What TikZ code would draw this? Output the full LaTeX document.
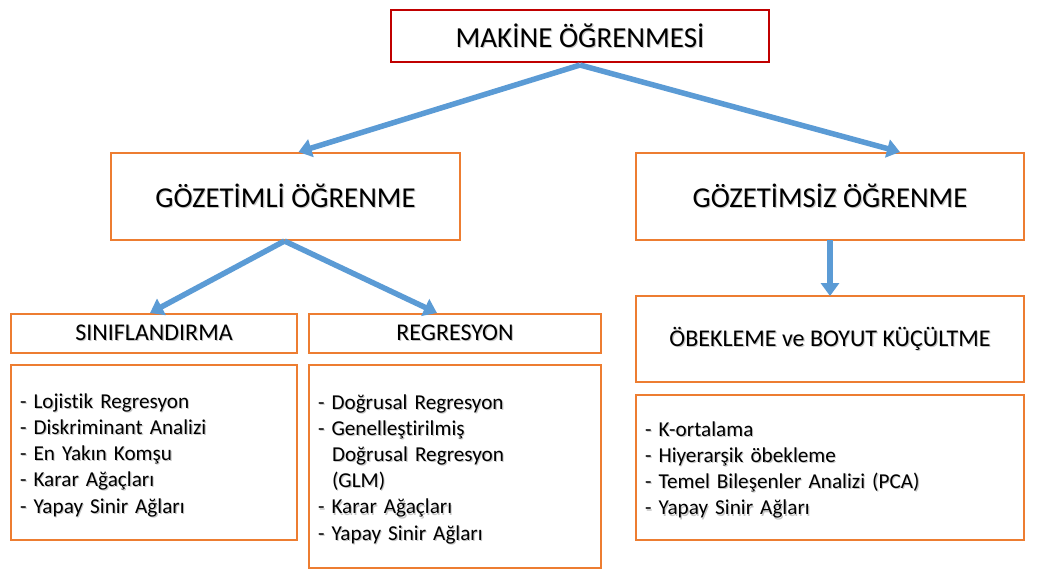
\documentclass[tikz,border=0pt]{standalone}
\usepackage{fontspec}
\setmainfont{Carlito}[Ligatures=NoCommon]
\usetikzlibrary{arrows.meta,calc}
\definecolor{boxorange}{HTML}{ED7D31}
\definecolor{boxred}{HTML}{C00000}
\definecolor{arrowblue}{HTML}{5B9BD5}
\newcommand\shd[1]{\leavevmode\rlap{\kern1.1pt\raisebox{-1.1pt}{\textcolor{black!22}{#1}}}#1}
\newcommand\topstrut{\rule{0pt}{21pt}}
\tikzset{
  box/.style={draw=boxorange, line width=1.2pt, fill=white, inner sep=0pt, outer sep=0pt, align=center},
  listbox/.style={draw=boxorange, line width=1.2pt, fill=white, inner xsep=9pt, inner ysep=0pt, outer sep=0pt, align=left},
  arr/.style={draw=arrowblue, line width=5.5pt, -{Triangle[width=18pt,length=13pt]}},
  fA/.style={font=\fontsize{29}{34}\selectfont},
  fB/.style={font=\fontsize{28.8}{32}\selectfont},
  fC/.style={font=\fontsize{24}{28}\selectfont},
  fL/.style={font=\fontsize{21.2}{26.2}\selectfont},
}
\begin{document}
\begin{tikzpicture}[x=1pt,y=-1pt]
\useasboundingbox (0,0) rectangle (1048,587);
\fill[white] (0,0) rectangle (1048,587);

\node[box, draw=boxred, minimum width=378pt, minimum height=52pt, fA] (top) at (580,36) {\shd{MAKİNE ÖĞRENMESİ}};

\node[box, minimum width=349pt, minimum height=87pt, fB] (sup) at (285.5,196.5) {\shd{GÖZETİMLİ ÖĞRENME}};
\node[box, minimum width=388pt, minimum height=87pt, fB] (unsup) at (830,196.5) {\shd{GÖZETİMSİZ ÖĞRENME}};

\node[box, minimum width=286pt, minimum height=39pt, fC] (cls) at (154,333.5) {\shd{SINIFLANDIRMA}};
\node[box, minimum width=292pt, minimum height=39pt, fC] (reg) at (455,333.5) {\shd{REGRESYON}};
\node[box, minimum width=388pt, minimum height=86pt, fC] (clu) at (830,339) {\shd{ÖBEKLEME ve BOYUT KÜÇÜLTME}};

\node[listbox, text width=268pt, minimum height=175pt, fL] (clslist) at (154,452.5)
  {\topstrut\shd{- Lojistik Regresyon}\\\shd{- Diskriminant Analizi}\\\shd{- En Yakın Komşu}\\\shd{- Karar Ağaçları}\\\shd{- Yapay Sinir Ağları}};
\node[listbox, text width=274pt, minimum height=203pt, fL] (reglist) at (455,466.5)
  {\topstrut\shd{- Doğrusal Regresyon}\\\shd{- Genelleştirilmiş}\\\hspace*{14pt}\shd{Doğrusal Regresyon}\\\hspace*{14pt}\shd{(GLM)}\\\shd{- Karar Ağaçları}\\\shd{- Yapay Sinir Ağları}};
\node[listbox, text width=370pt, minimum height=145pt, fL] (clulist) at (830,467.5)
  {\topstrut\shd{- K-ortalama}\\\shd{- Hiyerarşik öbekleme}\\\shd{- Temel Bileşenler Analizi (PCA)}\\\shd{- Yapay Sinir Ağları}};

\coordinate (fork1) at ($(top.south)+(0,3)$);
\coordinate (fork2) at ($(sup.south)+(-1,1)$);

\draw[arr] (fork1) -- ($(sup.north)+(13,-1)$);
\draw[arr] (fork1) -- ($(unsup.north)+(70,-1)$);
\draw[arr] (fork2) -- ($(cls.north)+(-4,-1)$);
\draw[arr] (fork2) -- ($(reg.north)+(-18,-1)$);
\draw[arr] (unsup.south) -- (clu.north);
\end{tikzpicture}
\end{document}
